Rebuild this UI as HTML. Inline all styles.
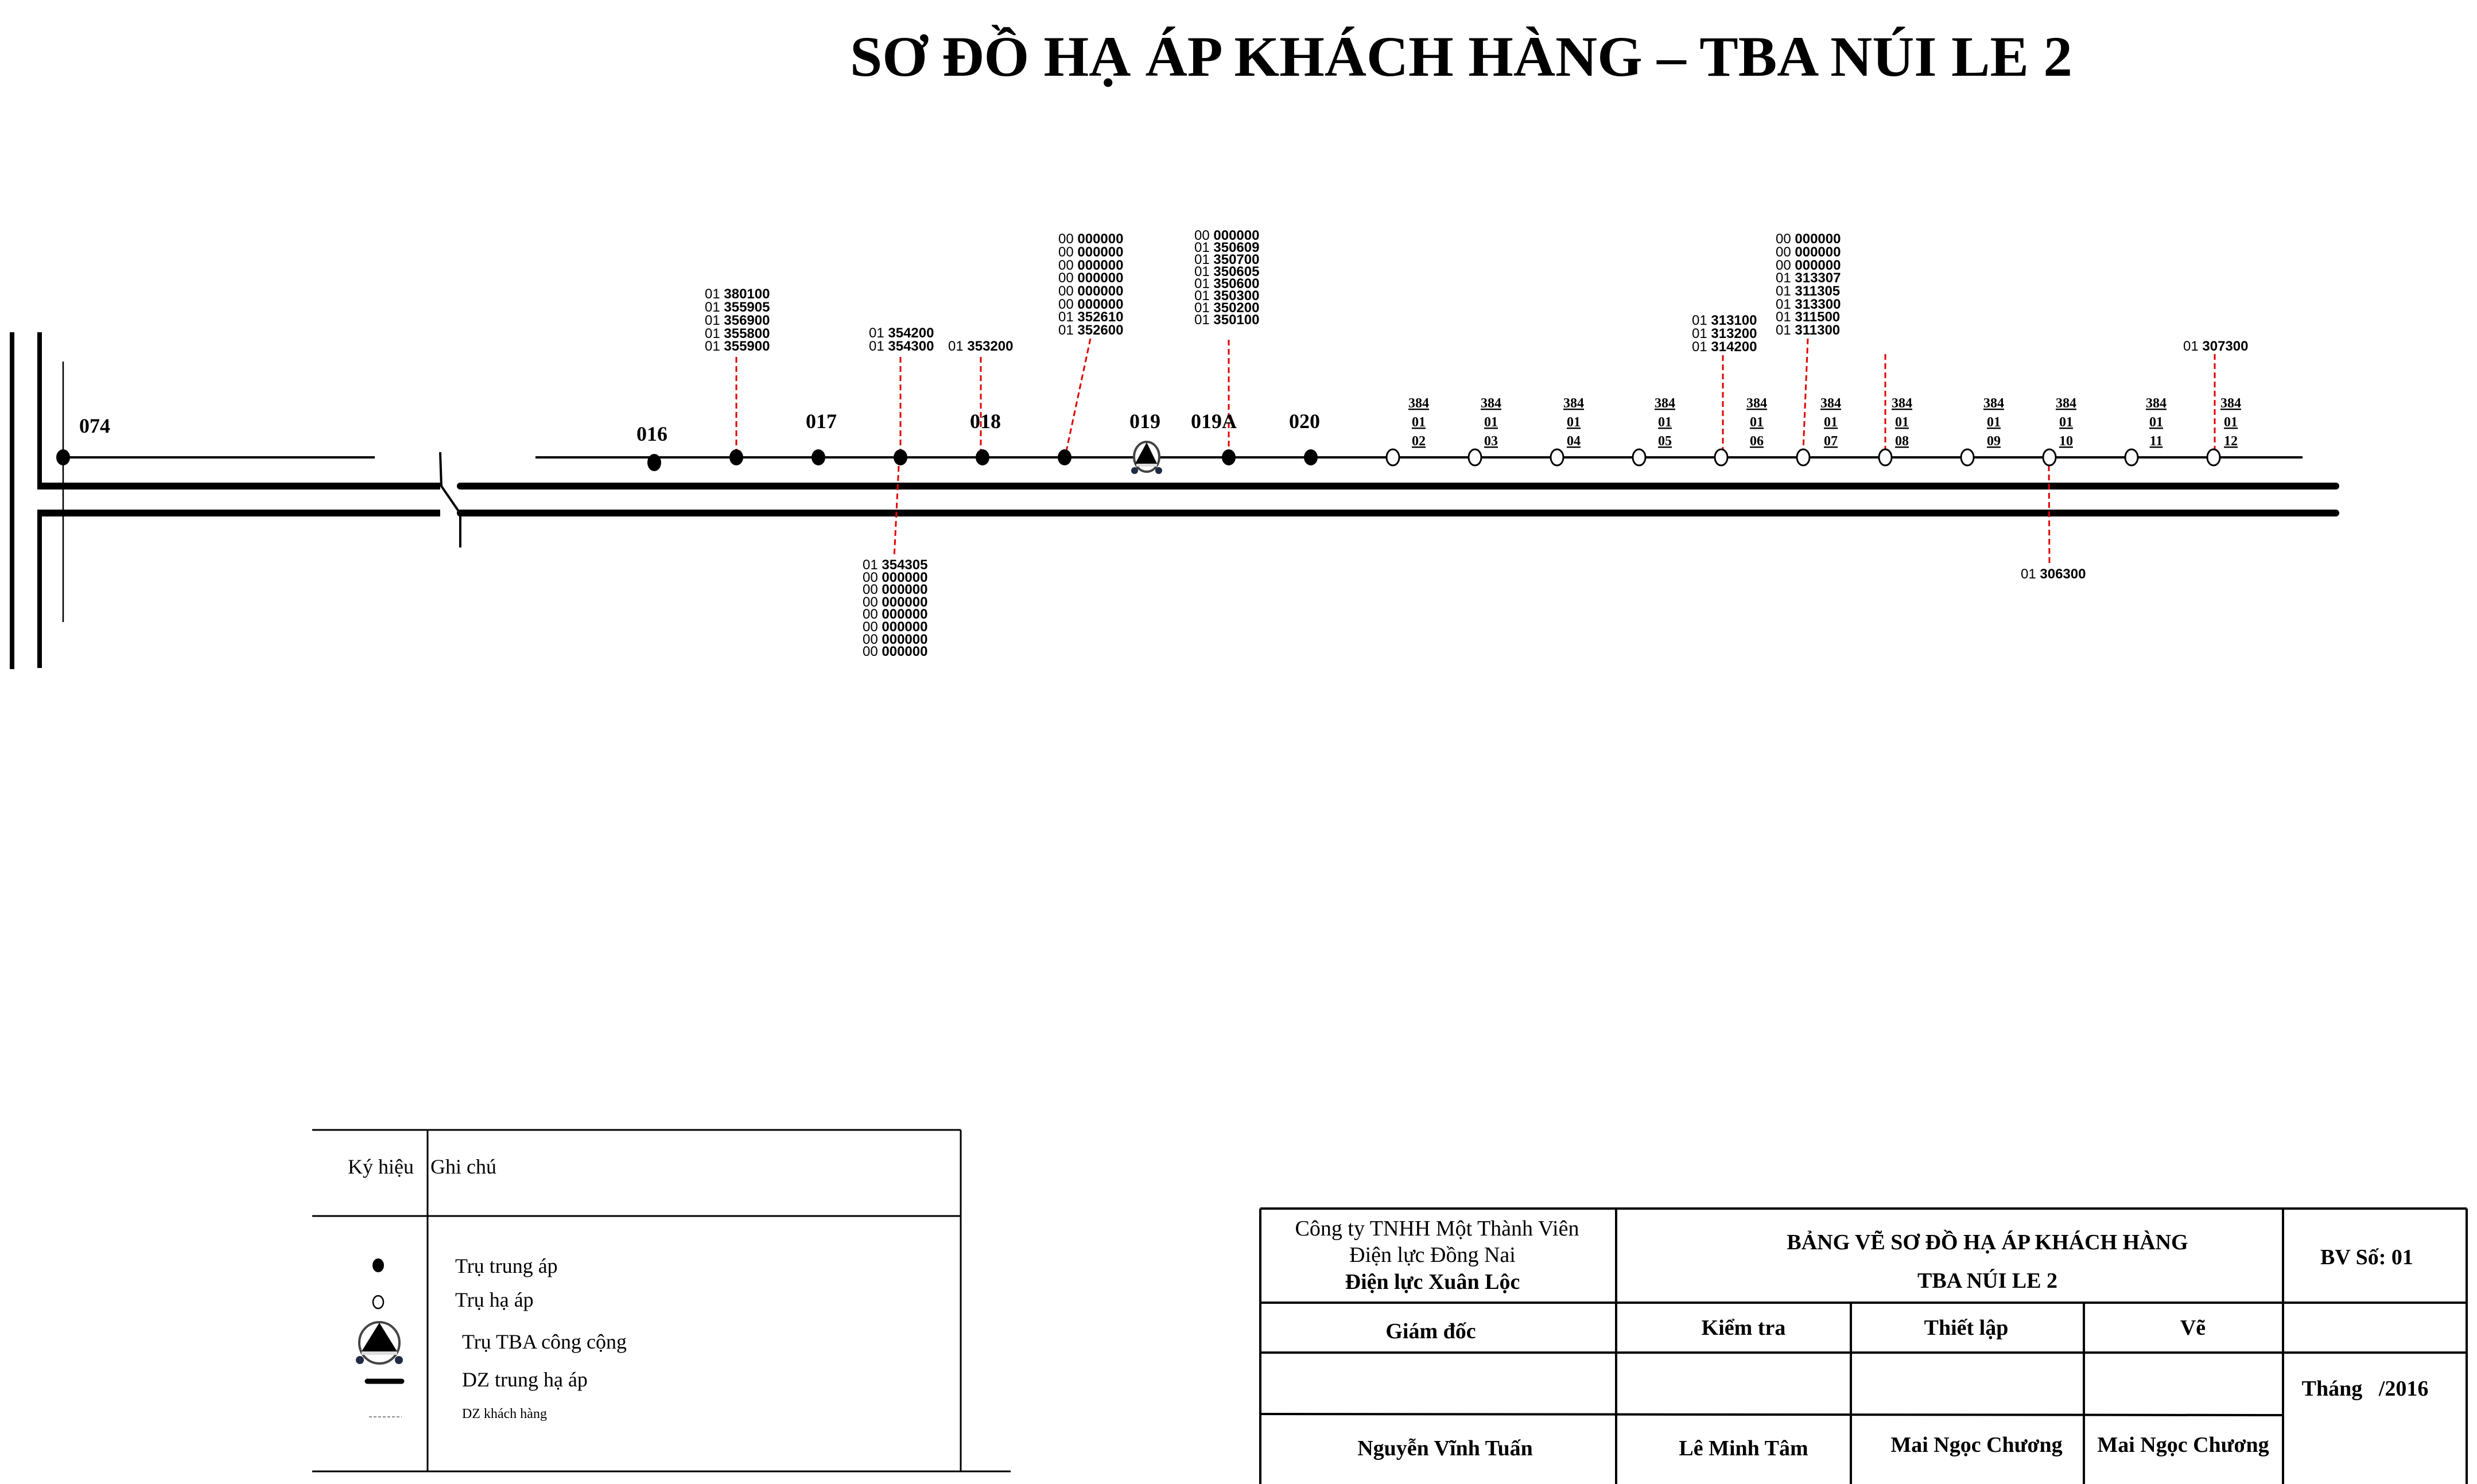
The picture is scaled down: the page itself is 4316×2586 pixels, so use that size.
<!DOCTYPE html>
<html><head><meta charset="utf-8"><style>
html,body{margin:0;padding:0;background:#fff;}
svg{display:block;}
.c{font-family:"Liberation Sans",sans-serif;font-size:24px;}
.c tspan.b{font-weight:bold;}
.s{font-family:"Liberation Serif",serif;}
.n{font-family:"Liberation Serif",serif;font-weight:bold;font-size:36px;}
.p{font-family:"Liberation Serif",serif;font-weight:bold;font-size:24px;text-decoration:underline;}
.rd{stroke:#e00000;stroke-width:3;stroke-dasharray:10 6;fill:none;}
</style></head><body>
<svg width="4316" height="2586" viewBox="0 0 4316 2586" xmlns="http://www.w3.org/2000/svg">
<text x="2546" y="132" text-anchor="middle" class="s" font-weight="bold" font-size="100" textLength="2130" lengthAdjust="spacingAndGlyphs">SƠ ĐỒ HẠ ÁP KHÁCH HÀNG – TBA NÚI LE 2</text>

<line x1="21" y1="579" x2="21" y2="1166" stroke="#000" stroke-width="8"/>
<line x1="69" y1="579" x2="69" y2="849" stroke="#000" stroke-width="8"/>
<line x1="69" y1="891" x2="69" y2="1164" stroke="#000" stroke-width="8"/>
<line x1="110" y1="630" x2="110" y2="1084" stroke="#000" stroke-width="2.5"/>

<line x1="110" y1="797" x2="653" y2="797" stroke="#000" stroke-width="4"/>
<line x1="933" y1="797" x2="4012" y2="797" stroke="#000" stroke-width="4"/>

<line x1="65" y1="847" x2="767" y2="847" stroke="#000" stroke-width="12"/>
<line x1="802" y1="847" x2="4070" y2="847" stroke="#000" stroke-width="12" stroke-linecap="round"/>
<line x1="65" y1="894" x2="767" y2="894" stroke="#000" stroke-width="12"/>
<line x1="802" y1="894" x2="4070" y2="894" stroke="#000" stroke-width="12" stroke-linecap="round"/>
<polyline points="767,788 769,847 802,895 802,954" fill="none" stroke="#000" stroke-width="4"/>

<line class="rd" x1="1283" y1="622" x2="1283" y2="785"/>
<line class="rd" x1="1569" y1="622" x2="1569" y2="785"/>
<line class="rd" x1="1566" y1="812" x2="1558" y2="972"/>
<line class="rd" x1="1709" y1="622" x2="1709" y2="785"/>
<line class="rd" x1="1900" y1="590" x2="1858" y2="786"/>
<line class="rd" x1="2141" y1="592" x2="2141" y2="785"/>
<line class="rd" x1="3002" y1="619" x2="3002" y2="784"/>
<line class="rd" x1="3150" y1="590" x2="3142" y2="784"/>
<line class="rd" x1="3285" y1="617" x2="3285" y2="784"/>
<line class="rd" x1="3859" y1="617" x2="3859" y2="784"/>
<line class="rd" x1="3570" y1="811" x2="3571" y2="985"/>

<ellipse cx="110" cy="797" rx="12" ry="14" fill="#000"/>
<ellipse cx="1140" cy="806" rx="12" ry="15" fill="#000"/>
<ellipse cx="1283" cy="797" rx="12" ry="14" fill="#000"/>
<ellipse cx="1426" cy="797" rx="12" ry="14" fill="#000"/>
<ellipse cx="1569" cy="797" rx="12" ry="14" fill="#000"/>
<ellipse cx="1712" cy="797" rx="12" ry="14" fill="#000"/>
<ellipse cx="1855" cy="797" rx="12" ry="14" fill="#000"/>
<ellipse cx="2141" cy="797" rx="12" ry="14" fill="#000"/>
<ellipse cx="2284" cy="797" rx="12" ry="14" fill="#000"/>
<g fill="#fff" stroke="#000" stroke-width="3">
<ellipse cx="2427" cy="797" rx="11" ry="14"/>
<ellipse cx="2570" cy="797" rx="11" ry="14"/>
<ellipse cx="2713" cy="797" rx="11" ry="14"/>
<ellipse cx="2856" cy="797" rx="11" ry="14"/>
<ellipse cx="2999" cy="797" rx="11" ry="14"/>
<ellipse cx="3142" cy="797" rx="11" ry="14"/>
<ellipse cx="3285" cy="797" rx="11" ry="14"/>
<ellipse cx="3428" cy="797" rx="11" ry="14"/>
<ellipse cx="3571" cy="797" rx="11" ry="14"/>
<ellipse cx="3714" cy="797" rx="11" ry="14"/>
<ellipse cx="3857" cy="797" rx="11" ry="14"/>
</g>
<g>
<ellipse cx="1998" cy="796" rx="22" ry="26" fill="#fff" stroke="#444" stroke-width="4"/>
<rect x="1980" y="808" width="36" height="5" fill="#ddd"/>
<polygon points="1998,771 1978,808 2016,808" fill="#000"/>
<circle cx="1977" cy="820" r="6" fill="#1f2a44"/>
<circle cx="2019" cy="820" r="6" fill="#1f2a44"/>
</g>

<text class="n" x="138" y="754">074</text>
<text class="n" x="1109" y="768">016</text>
<text class="n" x="1404" y="746">017</text>
<text class="n" x="1690" y="746">018</text>
<text class="n" x="1968" y="746">019</text>
<text class="n" x="2075" y="746">019A</text>
<text class="n" x="2246" y="746">020</text>

<g class="p" text-anchor="middle">
<text x="2472" y="710">384</text><text x="2472" y="743">01</text><text x="2472" y="776">02</text>
<text x="2598" y="710">384</text><text x="2598" y="743">01</text><text x="2598" y="776">03</text>
<text x="2742" y="710">384</text><text x="2742" y="743">01</text><text x="2742" y="776">04</text>
<text x="2901" y="710">384</text><text x="2901" y="743">01</text><text x="2901" y="776">05</text>
<text x="3061" y="710">384</text><text x="3061" y="743">01</text><text x="3061" y="776">06</text>
<text x="3190" y="710">384</text><text x="3190" y="743">01</text><text x="3190" y="776">07</text>
<text x="3314" y="710">384</text><text x="3314" y="743">01</text><text x="3314" y="776">08</text>
<text x="3474" y="710">384</text><text x="3474" y="743">01</text><text x="3474" y="776">09</text>
<text x="3600" y="710">384</text><text x="3600" y="743">01</text><text x="3600" y="776">10</text>
<text x="3757" y="710">384</text><text x="3757" y="743">01</text><text x="3757" y="776">11</text>
<text x="3887" y="710">384</text><text x="3887" y="743">01</text><text x="3887" y="776">12</text>
</g>

<g class="c">
<text x="1228" y="520">01 <tspan class="b">380100</tspan></text>
<text x="1228" y="543">01 <tspan class="b">355905</tspan></text>
<text x="1228" y="566">01 <tspan class="b">356900</tspan></text>
<text x="1228" y="589">01 <tspan class="b">355800</tspan></text>
<text x="1228" y="611">01 <tspan class="b">355900</tspan></text>
<text x="1514" y="588">01 <tspan class="b">354200</tspan></text>
<text x="1514" y="611">01 <tspan class="b">354300</tspan></text>
<text x="1652" y="611">01 <tspan class="b">353200</tspan></text>
<text x="1844" y="424">00 <tspan class="b">000000</tspan></text>
<text x="1844" y="447">00 <tspan class="b">000000</tspan></text>
<text x="1844" y="470">00 <tspan class="b">000000</tspan></text>
<text x="1844" y="492">00 <tspan class="b">000000</tspan></text>
<text x="1844" y="515">00 <tspan class="b">000000</tspan></text>
<text x="1844" y="538">00 <tspan class="b">000000</tspan></text>
<text x="1844" y="560">01 <tspan class="b">352610</tspan></text>
<text x="1844" y="583">01 <tspan class="b">352600</tspan></text>
<text x="2081" y="418">00 <tspan class="b">000000</tspan></text>
<text x="2081" y="439">01 <tspan class="b">350609</tspan></text>
<text x="2081" y="460">01 <tspan class="b">350700</tspan></text>
<text x="2081" y="481">01 <tspan class="b">350605</tspan></text>
<text x="2081" y="502">01 <tspan class="b">350600</tspan></text>
<text x="2081" y="523">01 <tspan class="b">350300</tspan></text>
<text x="2081" y="544">01 <tspan class="b">350200</tspan></text>
<text x="2081" y="565">01 <tspan class="b">350100</tspan></text>
<text x="2948" y="566">01 <tspan class="b">313100</tspan></text>
<text x="2948" y="589">01 <tspan class="b">313200</tspan></text>
<text x="2948" y="612">01 <tspan class="b">314200</tspan></text>
<text x="3094" y="424">00 <tspan class="b">000000</tspan></text>
<text x="3094" y="447">00 <tspan class="b">000000</tspan></text>
<text x="3094" y="470">00 <tspan class="b">000000</tspan></text>
<text x="3094" y="492">01 <tspan class="b">313307</tspan></text>
<text x="3094" y="515">01 <tspan class="b">311305</tspan></text>
<text x="3094" y="538">01 <tspan class="b">313300</tspan></text>
<text x="3094" y="560">01 <tspan class="b">311500</tspan></text>
<text x="3094" y="583">01 <tspan class="b">311300</tspan></text>
<text x="3804" y="611">01 <tspan class="b">307300</tspan></text>
<text x="1503" y="992">01 <tspan class="b">354305</tspan></text>
<text x="1503" y="1014">00 <tspan class="b">000000</tspan></text>
<text x="1503" y="1035">00 <tspan class="b">000000</tspan></text>
<text x="1503" y="1057">00 <tspan class="b">000000</tspan></text>
<text x="1503" y="1078">00 <tspan class="b">000000</tspan></text>
<text x="1503" y="1100">00 <tspan class="b">000000</tspan></text>
<text x="1503" y="1122">00 <tspan class="b">000000</tspan></text>
<text x="1503" y="1143">00 <tspan class="b">000000</tspan></text>
<text x="3521" y="1008">01 <tspan class="b">306300</tspan></text>
</g>

<g stroke="#000" stroke-width="3">
<line x1="544" y1="1969" x2="1674" y2="1969"/>
<line x1="544" y1="2119" x2="1674" y2="2119"/>
<line x1="544" y1="2564" x2="1761" y2="2564"/>
<line x1="745" y1="1969" x2="745" y2="2564"/>
<line x1="1674" y1="1969" x2="1674" y2="2564"/>
</g>
<g class="s" font-size="36">
<text x="606" y="2045">Ký hiệu</text>
<text x="750" y="2045">Ghi chú</text>
<text x="793" y="2218">Trụ trung áp</text>
<text x="793" y="2277">Trụ hạ áp</text>
<text x="805" y="2350">Trụ TBA công cộng</text>
<text x="805" y="2416">DZ trung hạ áp</text>
<text x="805" y="2471" font-size="24">DZ khách hàng</text>
</g>
<ellipse cx="659" cy="2205" rx="10" ry="12" fill="#000"/>
<ellipse cx="659" cy="2269" rx="9" ry="11" fill="#fff" stroke="#000" stroke-width="2.5"/>
<ellipse cx="661" cy="2340" rx="35" ry="36" fill="#fff" stroke="#444" stroke-width="4"/>
<rect x="630" y="2355" width="62" height="6" fill="#ddd"/>
<polygon points="661,2305 630,2355 692,2355" fill="#000"/>
<circle cx="627" cy="2370" r="7" fill="#1f2a44"/>
<circle cx="695" cy="2370" r="7" fill="#1f2a44"/>
<line x1="640" y1="2407" x2="700" y2="2407" stroke="#000" stroke-width="9" stroke-linecap="round"/>
<line x1="643" y1="2469" x2="700" y2="2469" stroke="#888" stroke-width="2" stroke-dasharray="5 3"/>

<g stroke="#000" stroke-width="4">
<line x1="2196" y1="2106" x2="4298" y2="2106"/>
<line x1="2196" y1="2270" x2="4298" y2="2270"/>
<line x1="2196" y1="2357" x2="4298" y2="2357"/>
<line x1="2196" y1="2464" x2="3978" y2="2466"/>
<line x1="2196" y1="2106" x2="2196" y2="2586"/>
<line x1="2816" y1="2106" x2="2816" y2="2586"/>
<line x1="3225" y1="2270" x2="3225" y2="2586"/>
<line x1="3631" y1="2270" x2="3631" y2="2586"/>
<line x1="3978" y1="2106" x2="3978" y2="2586"/>
<line x1="4298" y1="2106" x2="4298" y2="2586"/>
</g>
<g class="s" font-size="38" text-anchor="middle">
<text x="2504" y="2153">Công ty TNHH Một Thành Viên</text>
<text x="2496" y="2199">Điện lực Đồng Nai</text>
<text x="2496" y="2246" font-weight="bold">Điện lực Xuân Lộc</text>
<text x="3463" y="2177" font-weight="bold">BẢNG VẼ SƠ ĐỒ HẠ ÁP KHÁCH HÀNG</text>
<text x="3463" y="2244" font-weight="bold">TBA NÚI LE 2</text>
<text x="4124" y="2203" font-weight="bold">BV Số: 01</text>
<text x="2493" y="2332" font-weight="bold">Giám đốc</text>
<text x="3038" y="2326" font-weight="bold">Kiểm tra</text>
<text x="3426" y="2326" font-weight="bold">Thiết lập</text>
<text x="3821" y="2326" font-weight="bold">Vẽ</text>
<text x="4121" y="2432" font-weight="bold">Tháng&#160;&#160;&#160;/2016</text>
<text x="2518" y="2536" font-weight="bold">Nguyễn Vĩnh Tuấn</text>
<text x="3038" y="2536" font-weight="bold">Lê Minh Tâm</text>
<text x="3444" y="2530" font-weight="bold">Mai Ngọc Chương</text>
<text x="3804" y="2530" font-weight="bold">Mai Ngọc Chương</text>
</g>
</svg>
</body></html>
